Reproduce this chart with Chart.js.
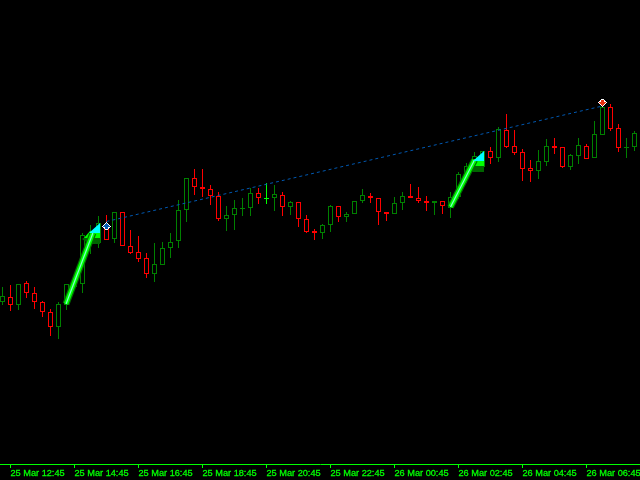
<!DOCTYPE html>
<html>
<head>
<meta charset="utf-8">
<style>html,body{margin:0;padding:0;background:#000;overflow:hidden}canvas{display:block}</style>
<script src="https://cdn.jsdelivr.net/npm/chart.js@4"></script>
</head>
<body>
<canvas id="c" width="640" height="480"></canvas>
<script>
const opens  = [163,168,160,182,172,163,153,138,160,178,181,221,222,237,226,253,219,213,207,191,200,217,224,255,287,278,276,269,246,250,256,257,272,267,267,270,258,263,246,234,232,240,259,248,251,264,269,267,253,251,262,269,267,264,262,264,257,268,287,297,298,314,307,335,319,313,297,294,303,319,318,298,309,319,307,330,358,337,317,318];
const highs  = [178,180,181,184,178,164,156,163,181,185,232,240,249,250,253,253,235,229,212,222,223,232,265,287,296,296,280,273,259,265,267,277,277,282,280,273,264,263,250,236,241,260,259,253,264,276,272,267,253,268,273,281,278,269,264,264,273,293,302,313,314,318,338,351,335,316,305,315,326,327,318,311,327,321,344,359,361,341,327,334];
const lows   = [160,154,155,167,156,148,129,126,155,176,172,211,217,225,222,219,211,203,187,183,200,207,217,243,270,268,260,244,234,235,249,249,261,261,254,249,250,238,232,225,226,233,243,243,251,262,262,240,244,251,255,267,262,254,250,251,247,266,282,293,295,301,303,317,310,284,283,286,299,311,297,295,301,306,307,330,334,313,307,314];
const closes = [169,160,181,172,163,153,138,161,181,184,230,230,242,225,253,219,212,206,191,201,217,223,255,287,278,276,269,246,250,257,257,272,267,267,271,258,263,246,233,232,240,259,248,251,264,270,267,253,251,262,269,267,264,262,264,259,268,291,299,309,314,307,336,318,312,296,294,304,319,317,298,310,320,306,331,358,336,317,318,332];
const tickCandles = [1,9,17,25,33,41,49,57,65,73];
const tickLabels = ['25 Mar 12:45','25 Mar 14:45','25 Mar 16:45','25 Mar 18:45','25 Mar 20:45','25 Mar 22:45','26 Mar 00:45','26 Mar 02:45','26 Mar 04:45','26 Mar 06:45'];
const trendIdx = [13,75];
const trendVal = [243.5,359];
const arrowAIdx = [7.94,11.3];
const arrowAVal = [161,232];
const arrowBIdx = [56,59];
const arrowBVal = [258,305];
const headIdx = [11.1875,59.1875];
const headVal = [231,303];
const buyIdx = [13], buyVal = [239];
const sellIdx = [75], sellVal = [362];

const GREEN='#008000', RED='#ff0000', LIME='#00ff00';
const idx = opens.map((_,i)=>i);
const colors = idx.map(i=>closes[i]>opens[i]?GREEN:closes[i]<opens[i]?RED:LIME);
const bodies = idx.map(i=>({x:i,y:opens[i]===closes[i]?[closes[i]-1,closes[i]]:[opens[i],closes[i]]}));
const wicks = idx.map(i=>({x:i,y:[lows[i],highs[i]]}));
const pts=(a,b)=>a.map((x,i)=>({x,y:b[i]}));

function iconCanvas(up,fill){
  const m=["....X....","...XXX...","..XXXXX..",".XXXXXXX.","...XXX...","...XXX..."];
  const rows=up?m:m.slice().reverse();
  const c=document.createElement('canvas');c.width=11;c.height=8;
  const g=c.getContext('2d');
  g.fillStyle='#fff';
  rows.forEach((r,y)=>[...r].forEach((ch,x)=>{if(ch==='X')for(const[d,e]of[[0,0],[1,0],[-1,0],[0,1],[0,-1]])g.fillRect(x+1+d,y+1+e,1,1);}));
  g.fillStyle=fill;
  rows.forEach((r,y)=>[...r].forEach((ch,x)=>{if(ch==='X')g.fillRect(x+1,y+1,1,1);}));
  return c;
}
function headCanvas(layer){
  const c=document.createElement('canvas');c.width=24;c.height=26;
  const g=c.getContext('2d');
  const poly=(col,p)=>{g.fillStyle=col;g.beginPath();p.forEach((q,i)=>i?g.lineTo(20+q[0],2+q[1]):g.moveTo(20+q[0],2+q[1]));g.closePath();g.fill();};
  if(layer==='base'){
    poly('#006400',[[-15,14],[-18,16],[-11,21],[0,21],[0,13]]);
    poly('#00ff00',[[-10,8],[-16,15],[-7,15],[0,15],[0,8]]);
  } else {
    poly('#00ffff',[[0,0],[-11,10],[0,10]]);
  }
  return c;
}

new Chart(document.getElementById('c'),{
  data:{datasets:[
    {type:'bar',data:wicks,order:6,grouped:false,barThickness:1,backgroundColor:colors,borderWidth:0,inflateAmount:0},
    {type:'bar',data:bodies,order:5,grouped:false,barThickness:5,backgroundColor:'#000',borderColor:colors,borderWidth:1,borderSkipped:false,inflateAmount:0},
    {type:'line',data:pts(trendIdx,trendVal),order:4,borderColor:'#0058b0',borderWidth:1,borderDash:[3,3],pointRadius:0,fill:false},
    {type:'scatter',data:pts(headIdx,headVal),order:3.5,pointStyle:headCanvas('base'),pointRadius:5,showLine:false},
    {type:'line',data:pts(arrowAIdx,arrowAVal),order:3.3,borderColor:'#007000',borderWidth:7,pointRadius:0},
    {type:'line',data:pts(arrowAIdx,arrowAVal),order:3.2,borderColor:'#00ff00',borderWidth:4.5,pointRadius:0},
    {type:'line',data:pts(arrowAIdx,arrowAVal),order:3.1,borderColor:'#7fffd0',borderWidth:1.2,pointRadius:0},
    {type:'line',data:pts(arrowBIdx,arrowBVal),order:3.3,borderColor:'#007000',borderWidth:7,pointRadius:0},
    {type:'line',data:pts(arrowBIdx,arrowBVal),order:3.2,borderColor:'#00ff00',borderWidth:4.5,pointRadius:0},
    {type:'line',data:pts(arrowBIdx,arrowBVal),order:3.1,borderColor:'#7fffd0',borderWidth:1.2,pointRadius:0},
    {type:'scatter',data:pts(headIdx,headVal),order:2,pointStyle:headCanvas('tip'),pointRadius:5,showLine:false},
    {type:'scatter',data:pts(buyIdx,buyVal),order:1,pointStyle:iconCanvas(true,'#0a5cb0'),pointRadius:5},
    {type:'scatter',data:pts(sellIdx,sellVal),order:1,pointStyle:iconCanvas(false,'#e8300f'),pointRadius:5}
  ]},
  options:{
    responsive:false,animation:false,devicePixelRatio:1,
    layout:{padding:0,autoPadding:false},
    plugins:{legend:{display:false},tooltip:{enabled:false},title:{display:false}},
    scales:{
      x:{type:'linear',offset:false,min:-0.3125,max:79.6875,
        afterBuildTicks:s=>{s.ticks=tickCandles.map(v=>({value:v}));},
        afterFit:s=>{s.height=16;s.paddingLeft=0;s.paddingRight=0;},
        border:{display:true,color:LIME,width:1},
        grid:{offset:false,drawOnChartArea:false,drawTicks:true,color:LIME,tickLength:4,tickColor:LIME},
        ticks:{color:LIME,autoSkip:false,maxRotation:0,minRotation:0,align:'start',padding:1,
          textStrokeColor:LIME,textStrokeWidth:0.3,
          font:{family:'"Liberation Sans"',size:9.2,lineHeight:1},
          callback:v=>tickLabels[tickCandles.indexOf(v)]}
      },
      y:{type:'linear',display:false,min:1,max:465}
    }
  }
});
</script>
</body>
</html>
